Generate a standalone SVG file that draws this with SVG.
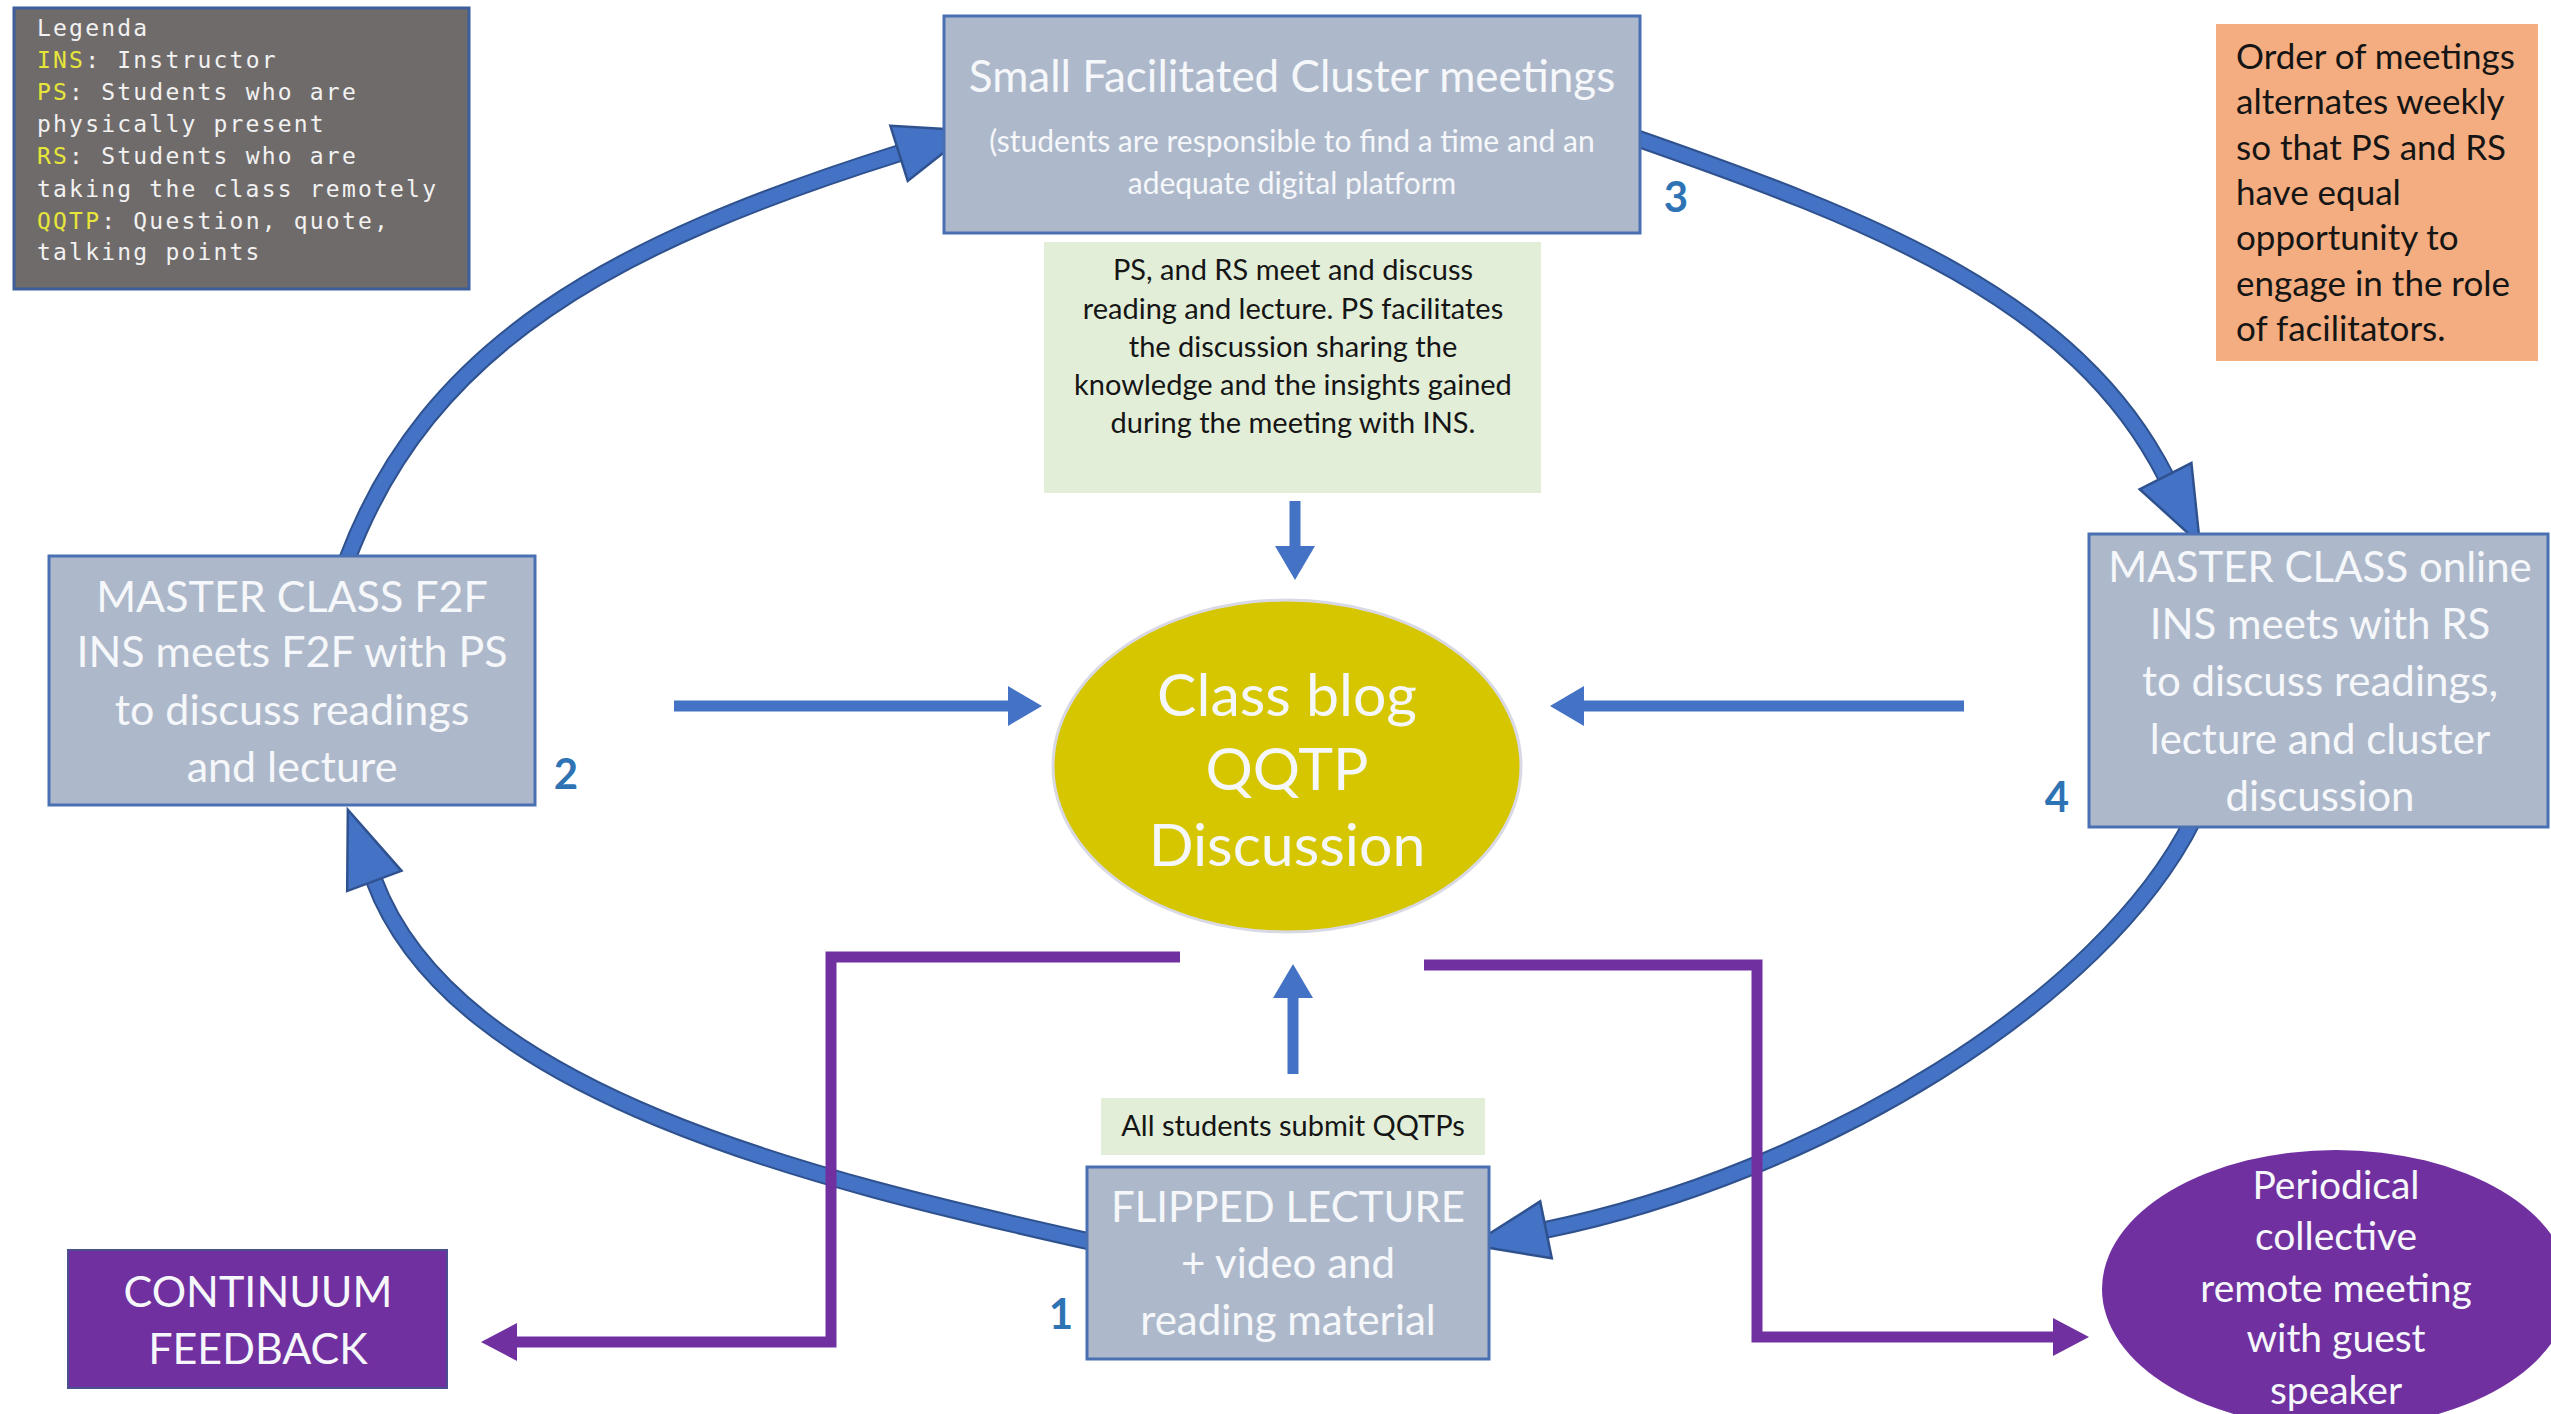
<svg xmlns="http://www.w3.org/2000/svg" width="2551" height="1414" viewBox="0 0 2551 1414">
<style>
.box{fill:#adb9ca;stroke:#4a70b4;stroke-width:3}
.wt{fill:#f5f7fa;font-family:Lato,"Open Sans",sans-serif;text-anchor:middle}
.bt{fill:#151515;font-family:Lato,"Open Sans",sans-serif;text-anchor:middle}
.ot{fill:#151515;font-family:Lato,"Open Sans",sans-serif;font-size:35px}
.num{fill:#2e74b5;font-family:Lato,"Open Sans",sans-serif;font-weight:bold;font-size:42px;text-anchor:middle}
.lg{fill:#f2f2f2;font-family:"DejaVu Sans Mono",monospace;font-size:23px;letter-spacing:2.2px}
.ky{fill:#e6e63a}
.arco{fill:none;stroke:#2f528f;stroke-width:18}
.arci{fill:none;stroke:#4472c4;stroke-width:14;marker-end:url(#ah)}
.st{fill:none;stroke:#4472c4;stroke-width:11;marker-end:url(#sh)}
.pu{fill:none;stroke:#7030a0;stroke-width:11;marker-end:url(#ph)}
</style>
<defs>
<marker id="ah" markerUnits="userSpaceOnUse" markerWidth="80" markerHeight="64" refX="1" refY="30" orient="auto" overflow="visible"><path d="M0,1 L76,30 L0,59 Z" fill="#4472c4" stroke="#2f528f" stroke-width="2.5"/></marker>
<marker id="sh" markerUnits="userSpaceOnUse" markerWidth="36" markerHeight="40" refX="1" refY="20" orient="auto" overflow="visible"><path d="M0,0 L34,20 L0,40 Z" fill="#4472c4"/></marker>
<marker id="ph" markerUnits="userSpaceOnUse" markerWidth="38" markerHeight="38" refX="1" refY="19" orient="auto" overflow="visible"><path d="M0,0 L36,19 L0,38 Z" fill="#7030a0"/></marker>
</defs>
<rect width="2551" height="1414" fill="#ffffff"/>

<g id="connectors">
<path class="arco" d="M347,560 C428,344 614,243 900,153"/>
<path class="arci" d="M347,560 C428,344 614,243 900,153"/>
<path class="arco" d="M1636,138 C1871,220 2076,299 2166,477"/>
<path class="arci" d="M1636,138 C1871,220 2076,299 2166,477"/>
<path class="arco" d="M2193,820 C2103,1000 1819,1174 1545,1230"/>
<path class="arci" d="M2193,820 C2103,1000 1819,1174 1545,1230"/>
<path class="arco" d="M1092,1242 C815,1180 454,1095 374,880"/>
<path class="arci" d="M1092,1242 C815,1180 454,1095 374,880"/>
<path class="st" d="M674,706 L1009,706"/>
<path class="st" d="M1964,706 L1583,706"/>
<path class="st" d="M1295,501 L1295,547"/>
<path class="st" d="M1293,1074 L1293,997"/>
<path class="pu" d="M1180,957 L831,957 L831,1342 L516,1342"/>
<path class="pu" d="M1424,965 L1757,965 L1757,1337 L2054,1337"/>
</g>

<g id="legend">
<rect x="14" y="8" width="455" height="281" fill="#706b6b" stroke="#3d5f9c" stroke-width="3"/>
<text class="lg" x="37" y="36">Legenda</text>
<text class="lg" x="37" y="68"><tspan class="ky">INS</tspan>: Instructor</text>
<text class="lg" x="37" y="100"><tspan class="ky">PS</tspan>: Students who are</text>
<text class="lg" x="37" y="132">physically present</text>
<text class="lg" x="37" y="164"><tspan class="ky">RS</tspan>: Students who are</text>
<text class="lg" x="37" y="197">taking the class remotely</text>
<text class="lg" x="37" y="229"><tspan class="ky">QQTP</tspan>: Question, quote,</text>
<text class="lg" x="37" y="260">talking points</text>
</g>

<g id="cluster">
<rect class="box" x="944" y="16" width="696" height="217"/>
<text class="wt" x="1292" y="92" font-size="44">Small Facilitated Cluster meetings</text>
<text class="wt" x="1292" y="152" font-size="30" fill="#e9edf3">(students are responsible to find a time and an</text>
<text class="wt" x="1292" y="194" font-size="30" fill="#e9edf3">adequate digital platform</text>
</g>
<text class="num" x="1676" y="212">3</text>

<g id="cluster-note">
<rect x="1044" y="242" width="497" height="251" fill="#e2eed8"/>
<text class="bt" x="1293" y="280" font-size="29">PS, and RS meet and discuss</text>
<text class="bt" x="1293" y="319" font-size="29">reading and lecture. PS facilitates</text>
<text class="bt" x="1293" y="357" font-size="29">the discussion sharing the</text>
<text class="bt" x="1293" y="395" font-size="29">knowledge and the insights gained</text>
<text class="bt" x="1293" y="433" font-size="29">during the meeting with INS.</text>
</g>

<g id="order-note">
<rect x="2216" y="24" width="322" height="337" fill="#f3ad80"/>
<text class="ot" x="2236" y="69">Order of meetings</text>
<text class="ot" x="2236" y="114">alternates weekly</text>
<text class="ot" x="2236" y="160">so that PS and RS</text>
<text class="ot" x="2236" y="205">have equal</text>
<text class="ot" x="2236" y="250">opportunity to</text>
<text class="ot" x="2236" y="296">engage in the role</text>
<text class="ot" x="2236" y="341">of facilitators.</text>
</g>

<g id="master-f2f">
<rect class="box" x="49" y="556" width="486" height="249"/>
<text class="wt" x="292" y="612" font-size="43">MASTER CLASS F2F</text>
<text class="wt" x="292" y="667" font-size="43">INS meets F2F with PS</text>
<text class="wt" x="292" y="725" font-size="43">to discuss readings</text>
<text class="wt" x="292" y="782" font-size="43">and lecture</text>
</g>
<text class="num" x="566" y="789">2</text>

<g id="master-online">
<rect class="box" x="2089" y="534" width="459" height="293"/>
<text class="wt" x="2320" y="582" font-size="42">MASTER CLASS online</text>
<text class="wt" x="2320" y="639" font-size="42">INS meets with RS</text>
<text class="wt" x="2320" y="696" font-size="42">to discuss readings,</text>
<text class="wt" x="2320" y="754" font-size="42">lecture and cluster</text>
<text class="wt" x="2320" y="811" font-size="42">discussion</text>
</g>
<text class="num" x="2057" y="812">4</text>

<g id="class-blog">
<ellipse cx="1287" cy="766" rx="234" ry="166" fill="#d5c600" stroke="#d9d9e6" stroke-width="3"/>
<text class="wt" x="1287" y="716" font-size="59" fill="#fffbe4">Class blog</text>
<text class="wt" x="1287" y="790" font-size="59" fill="#fffbe4">QQTP</text>
<text class="wt" x="1287" y="866" font-size="59" fill="#fffbe4">Discussion</text>
</g>

<g id="submit-note">
<rect x="1101" y="1098" width="384" height="57" fill="#e2eed8"/>
<text class="bt" x="1293" y="1136" font-size="29">All students submit QQTPs</text>
</g>

<g id="flipped-lecture">
<rect class="box" x="1087" y="1167" width="402" height="192"/>
<text class="wt" x="1288" y="1222" font-size="42">FLIPPED LECTURE</text>
<text class="wt" x="1288" y="1278" font-size="42">+ video and</text>
<text class="wt" x="1288" y="1335" font-size="42">reading material</text>
</g>
<text class="num" x="1061" y="1329">1</text>

<g id="continuum-feedback">
<rect x="68" y="1250" width="379" height="138" fill="#7030a0" stroke="#4b4f8f" stroke-width="2"/>
<text class="wt" x="258" y="1307" font-size="43">CONTINUUM</text>
<text class="wt" x="258" y="1364" font-size="43">FEEDBACK</text>
</g>

<g id="guest-speaker">
<ellipse cx="2336" cy="1289" rx="234" ry="139" fill="#7030a0"/>
<text class="wt" x="2336" y="1199" font-size="39">Periodical</text>
<text class="wt" x="2336" y="1250" font-size="39">collective</text>
<text class="wt" x="2336" y="1302" font-size="39">remote meeting</text>
<text class="wt" x="2336" y="1352" font-size="39">with guest</text>
<text class="wt" x="2336" y="1404" font-size="39">speaker</text>
</g>
</svg>
